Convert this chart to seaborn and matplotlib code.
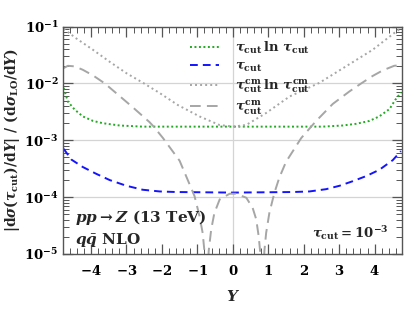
import numpy as np
import pandas as pd
import matplotlib
matplotlib.use("Agg")
import matplotlib.pyplot as plt
import matplotlib.ticker as mticker
import seaborn as sns

sns.set_style("ticks")
plt.rcParams["font.family"] = ["DejaVu Serif"]
plt.rcParams["mathtext.fontset"] = "custom"
plt.rcParams["mathtext.rm"] = "DejaVu Serif:bold"
plt.rcParams["mathtext.it"] = "DejaVu Serif:bold:italic"
plt.rcParams["mathtext.bf"] = "DejaVu Serif:bold"

# values (log10 of the ratio)
y_tau_ln = [-4.77, -4.65, -4.46, -4.23, -3.94, -3.66, -3.19, -2.54, 0.0,
            2.53, 3.10, 3.48, 3.85, 4.13, 4.42, 4.58, 4.74]
v_tau_ln = [-2.08, -2.32, -2.46, -2.58, -2.66, -2.70, -2.74, -2.76, -2.76,
            -2.76, -2.74, -2.71, -2.66, -2.58, -2.45, -2.29, -2.16]

y_tau = [-4.77, -4.55, -4.23, -3.85, -3.47, -3.00, -2.54, -2.06, -1.59, 0.0,
         1.69, 2.16, 2.63, 3.01, 3.38, 3.76, 4.13, 4.51, 4.74]
v_tau = [-3.15, -3.34, -3.47, -3.59, -3.70, -3.80, -3.87, -3.90, -3.91, -3.92,
         -3.91, -3.90, -3.86, -3.80, -3.72, -3.63, -3.52, -3.35, -3.19]

y_cm_ln = [-4.77, -4.41, -3.94, -3.47, -3.00, -2.53, -2.06, -1.55, -0.94, -0.38,
           0.0, 0.38, 0.94, 1.60, 2.44, 3.19, 3.94, 4.60, 4.77]
v_cm_ln = [-1.04, -1.21, -1.41, -1.62, -1.82, -1.99, -2.17, -2.38, -2.58, -2.73,
           -2.76, -2.73, -2.52, -2.23, -1.99, -1.70, -1.41, -1.09, -1.02]

y_cm = [-4.77, -4.65, -4.46, -4.23, -3.94, -3.61, -3.29, -2.82, -2.35, -2.23,
        -1.97, -1.50, -1.31, -1.08, -0.94, -0.85, -0.80, -0.74, -0.68, -0.61,
        -0.52, -0.37, -0.09, 0.09, 0.38, 0.56, 0.66, 0.73, 0.77, 0.83, 0.89,
        0.94, 1.03, 1.17, 1.31, 1.50, 1.93, 2.35, 2.82, 3.29, 3.62, 3.94,
        4.23, 4.55, 4.70, 4.77]
v_cm = [-1.73, -1.69, -1.70, -1.76, -1.86, -2.00, -2.17, -2.42, -2.68, -2.76,
        -2.96, -3.36, -3.64, -3.98, -4.33, -4.63, -4.95, -5.8, -4.95, -4.57,
        -4.28, -4.04, -3.94, -3.94, -4.01, -4.19, -4.39, -4.69, -4.95, -5.8,
        -4.95, -4.63, -4.28, -3.93, -3.66, -3.38, -2.96, -2.66, -2.36, -2.14,
        -2.00, -1.87, -1.77, -1.69, -1.68, -1.69]

fig = plt.figure(figsize=(4.07, 3.09), dpi=100)
ax = fig.add_axes([0.1555, 0.178, 0.833, 0.736])

gridc = "#d4d4d4"
for d in [1e-2, 1e-3, 1e-4]:
    ax.axhline(d, color=gridc, lw=0.9, zorder=0)
ax.axvline(0, color=gridc, lw=0.9, zorder=0)

lw = 1.4
sns.lineplot(x=y_tau_ln, y=10 ** np.array(v_tau_ln), ax=ax, color="#22aa22",
             lw=lw, linestyle=(0, (1, 1.3)), estimator=None,
             label=r"$\tau_{\rm cut}\,\ln\,\tau_{\rm cut}$")
sns.lineplot(x=y_tau, y=10 ** np.array(v_tau), ax=ax, color="#1414ff",
             lw=lw, linestyle=(0, (4, 2.6)), estimator=None,
             label=r"$\tau_{\rm cut}$")
sns.lineplot(x=y_cm_ln, y=10 ** np.array(v_cm_ln), ax=ax, color="#a6a6a6",
             lw=lw, linestyle=(0, (1, 1.6)), estimator=None,
             label=r"$\tau_{\rm cut}^{\rm cm}\,\ln\,\tau_{\rm cut}^{\rm cm}$")
sns.lineplot(x=y_cm, y=10 ** np.array(v_cm), ax=ax, color="#a6a6a6",
             lw=lw, linestyle=(0, (5.5, 3.2)), estimator=None,
             label=r"$\tau_{\rm cut}^{\rm cm}$")

ax.set_yscale("log")
ax.set_ylim(1e-5, 1e-1)
ax.set_xlim(-4.78, 4.78)

ax.xaxis.set_major_locator(mticker.MultipleLocator(1))
ax.xaxis.set_minor_locator(mticker.MultipleLocator(0.2))
ax.yaxis.set_major_locator(mticker.LogLocator(base=10, numticks=10))
ax.yaxis.set_minor_locator(mticker.LogLocator(base=10, subs=np.arange(2, 10), numticks=10))
ax.yaxis.set_minor_formatter(mticker.NullFormatter())
ax.xaxis.set_major_formatter(mticker.FuncFormatter(
    lambda v, p: r"$\mathbf{%d}$" % int(round(v)) if round(v) >= 0 else r"$\mathbf{-%d}$" % int(round(-v))))
ax.yaxis.set_major_formatter(mticker.FuncFormatter(
    lambda v, p: r"$\mathbf{10^{%d}}$" % int(round(np.log10(v)))))

edge = "#555555"
for s in ax.spines.values():
    s.set_color(edge)
    s.set_linewidth(1.0)
ax.tick_params(which="both", direction="in", top=True, right=True, color=edge,
               labelsize=9.5, labelcolor="black")
ax.tick_params(axis="x", which="major", pad=7)
ax.tick_params(which="major", length=7, width=0.9)
ax.tick_params(which="minor", length=4, width=0.7)

ax.set_xlabel(r"$Y$", fontsize=11, labelpad=8)
ax.set_ylabel(r"$|\mathrm{d}\sigma(\tau_{\rm cut})/\mathrm{d}Y|\ /\ (\mathrm{d}\sigma_{\rm LO}/\mathrm{d}Y)$",
              fontsize=10, labelpad=1.5)

ax.legend(loc="upper left", bbox_to_anchor=(0.34, 0.995), frameon=False,
          fontsize=9.5, handlelength=2.2, handletextpad=1.2, labelspacing=0.3)

ax.text(0.035, 0.14, r"$pp\rightarrow Z\ (\mathrm{13\ TeV})$", transform=ax.transAxes,
        fontsize=11)
ax.text(0.035, 0.045, r"$q\bar{q}\ \mathrm{NLO}$", transform=ax.transAxes, fontsize=11)
ax.text(0.96, 0.07, r"$\tau_{\rm cut} = 10^{-3}$", transform=ax.transAxes,
        fontsize=9.5, ha="right")

fig.savefig("out.png", dpi=100)
